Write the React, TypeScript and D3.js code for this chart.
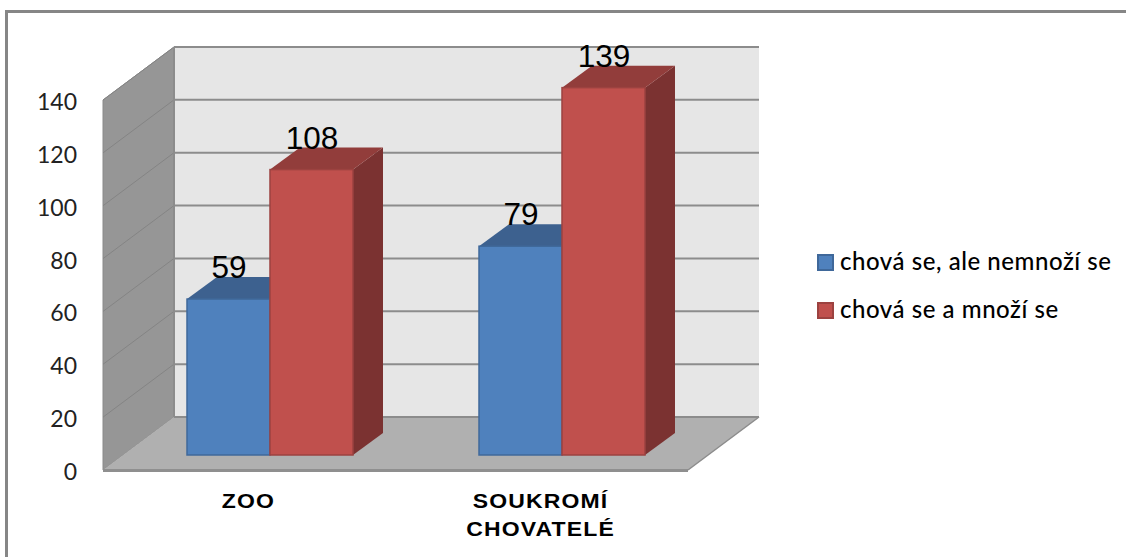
import React from "react";
import * as d3 from "d3";

const categories = ["ZOO", "SOUKROMÍ|CHOVATELÉ"];
const seriesNames = ["chová se, ale nemnoží se", "chová se a množí se"];
const breeding = [59, 79];
const notBreeding = [108, 139];
const yTicks = [0, 20, 40, 60, 80, 100, 120, 140];

const seriesValues = [breeding, notBreeding];
const front = ["#4f81bd", "#c0504d"];
const top = ["#3d618f", "#923d3b"];
const side = ["#325077", "#7b3231"];
const edge = ["#3f689a", "#9c4240"];

// Wall, floor and bar placement of the oblique projection.
const W = 1126;
const H = 557;
const wallLeft = 103;
const wallRight = 688;
const depthX = 71;
const depthY = -53;
const barDepthX = 30;
const barDepthY = -22;
const barWidth = 83;
const barBaseY = 455;

const y = d3.scaleLinear().domain([0, 140]).range([470, 100]);
const barHeight = d3.scaleLinear().domain([0, 140]).range([0, 370]);
const xBand = d3.scaleBand<string>().domain(categories).range([124, 708]);
const poly = d3.line<[number, number]>().curve(d3.curveLinearClosed);

export default function App() {
  const y0 = y(0);
  const y140 = y(140);
  return (
    <svg
      width={W}
      height={H}
      viewBox={`0 0 ${W} ${H}`}
      style={{ position: "fixed", left: 0, top: 0, background: "#fff" }}
    >
      {/* outer frame */}
      <rect x={6.5} y={11.5} width={W + 20} height={H + 20} fill="none" stroke="#868686" strokeWidth={3} />

      {/* back wall */}
      <rect x={wallLeft + depthX} y={y140 + depthY} width={wallRight - wallLeft} height={y0 - y140} fill="#e6e6e6" />

      {/* left wall */}
      <path
        d={poly([
          [wallLeft, y140],
          [wallLeft + depthX, y140 + depthY],
          [wallLeft + depthX, y0 + depthY],
          [wallLeft, y0],
        ]) ?? ""}
        fill="#969696"
        stroke="#8a8a8a"
      />

      {/* floor */}
      <path
        d={poly([
          [wallLeft, y0],
          [wallLeft + depthX, y0 + depthY],
          [wallRight + depthX, y0 + depthY],
          [wallRight, y0],
        ]) ?? ""}
        fill="#b0b0b0"
      />
      <line x1={wallLeft} x2={wallRight} y1={y0 + 0.5} y2={y0 + 0.5} stroke="#8f8f8f" strokeWidth={3} />
      <line x1={wallRight} x2={wallRight + depthX} y1={y0} y2={y0 + depthY} stroke="#8c8c8c" strokeWidth={1.5} />

      {/* gridlines across both walls */}
      {yTicks.map((t) => (
        <g key={t} fill="none" stroke="#8c8c8c">
          {t > 0 && <line x1={wallLeft} y1={y(t)} x2={wallLeft + depthX} y2={y(t) + depthY} strokeWidth={1} stroke="#848484" />}
          <line x1={wallLeft + depthX} x2={wallRight + depthX} y1={y(t) + depthY} y2={y(t) + depthY} strokeWidth={2} />
        </g>
      ))}
      <line x1={wallLeft + depthX} x2={wallLeft + depthX} y1={y140 + depthY} y2={y0 + depthY} stroke="#8c8c8c" strokeWidth={2} />

      {/* bars */}
      {categories.map((c, ci) => {
        const groupLeft = (xBand(c) ?? 0) + xBand.bandwidth() / 2 - barWidth;
        return seriesValues.map((vals, si) => {
          const x0 = groupLeft + si * barWidth;
          const x1 = x0 + barWidth;
          const t = barBaseY - barHeight(vals[ci]);
          return (
            <g key={`${c}-${si}`}>
              <path
                d={poly([
                  [x1, t],
                  [x1 + barDepthX, t + barDepthY],
                  [x1 + barDepthX, barBaseY + barDepthY],
                  [x1, barBaseY],
                ]) ?? ""}
                fill={side[si]}
              />
              <path
                d={poly([
                  [x0, t],
                  [x0 + barDepthX, t + barDepthY],
                  [x1 + barDepthX, t + barDepthY],
                  [x1, t],
                ]) ?? ""}
                fill={top[si]}
              />
              <rect x={x0} y={t} width={barWidth} height={barBaseY - t} fill={front[si]} stroke={edge[si]} strokeWidth={1.5} />
            </g>
          );
        });
      })}

      {/* value labels */}
      {categories.map((c, ci) => {
        const groupLeft = (xBand(c) ?? 0) + xBand.bandwidth() / 2 - barWidth;
        return seriesValues.map((vals, si) => (
          <text
            key={`${c}-label-${si}`}
            x={groupLeft + si * barWidth + barWidth / 2 + 0.5}
            y={barBaseY - barHeight(vals[ci]) - 21}
            textAnchor="middle"
            fontFamily="'Liberation Sans', Arial, sans-serif"
            fontSize={31.5}
            fill="#000"
          >
            {vals[ci]}
          </text>
        ));
      })}

      {/* value axis labels */}
      {yTicks.map((t) => (
        <text
          key={t}
          x={77}
          y={y(t) + 10}
          textAnchor="end"
          fontFamily="Lato, 'Open Sans', sans-serif"
          fontSize={23}
          fill="#222"
        >
          {t}
        </text>
      ))}

      {/* category labels, set wide */}
      {categories.map((c) =>
        c.split("|").map((line, i) => (
          <text
            key={line}
            transform={`translate(${(xBand(c) ?? 0) + xBand.bandwidth() / 2 - 21.5},${508 + i * 27.5}) scale(1.15,1)`}
            textAnchor="middle"
            fontFamily="'Liberation Sans', Arial, sans-serif"
            fontWeight="bold"
            fontSize={20}
            letterSpacing={1}
            fill="#000"
          >
            {line}
          </text>
        ))
      )}

      {/* legend */}
      {seriesNames.map((name, i) => {
        const ly = 263 + i * 48;
        return (
          <g key={name}>
            <rect x={818} y={ly - 8} width={15} height={15} fill={front[i]} stroke={edge[i]} strokeWidth={2} />
            <text
              x={840}
              y={ly + 7}
              fontFamily="Lato, 'Open Sans', sans-serif"
              fontSize={24}
              fontWeight={500}
              letterSpacing={0.55}
              fill="#000"
            >
              {name}
            </text>
          </g>
        );
      })}
    </svg>
  );
}
